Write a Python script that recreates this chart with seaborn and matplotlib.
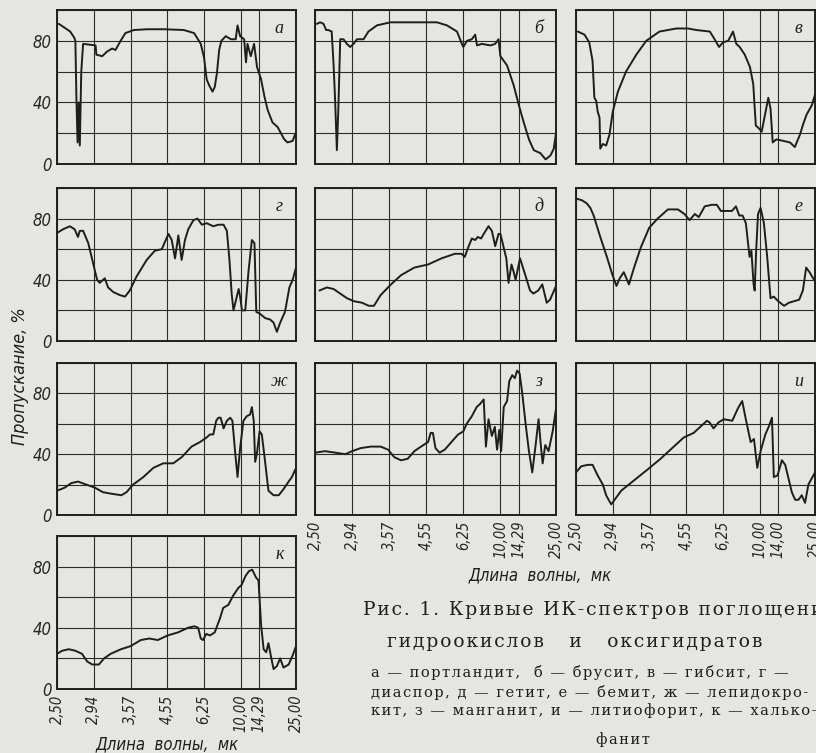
import numpy as np
import pandas as pd
import matplotlib
matplotlib.use('Agg')
import matplotlib.pyplot as plt
import seaborn as sns

# x is in grid steps: one step per wavelength label, the 10.00 -> 14.29 step is half width
grid_x = [0, 1, 2, 3, 4, 5, 5.5, 6.5]
wave_labels = ['2,50', '2,94', '3,57', '4,55', '6,25', '10,00', '14,29', '25,00']
wave_labels_i = ['2,50', '2,94', '3,57', '4,55', '6,25', '10,00', '14,00', '25,00']

# а - портландит
a_x = [0.05, 0.36, 0.47, 0.50, 0.53, 0.56, 0.59, 0.62, 0.66, 0.71, 1.05, 1.07, 1.23, 1.36, 1.50, 1.59,
       1.73, 1.86, 2.09, 2.45, 2.91, 3.45, 3.73, 3.91, 4.00, 4.07, 4.14, 4.23, 4.29, 4.35, 4.41, 4.47,
       4.59, 4.73, 4.86, 4.91, 4.98, 5.09, 5.14, 5.18, 5.27, 5.36, 5.44, 5.55, 5.64, 5.73, 5.86, 6.00,
       6.09, 6.18, 6.27, 6.41, 6.47]
a_y = [91, 86, 82, 80, 40, 14, 40, 12, 60, 78, 77, 71, 70, 73, 75, 74,
       80, 85, 87, 87.5, 87.5, 87, 85, 78, 69, 55, 51, 47, 50, 59, 74, 80,
       83, 81, 81, 90, 83, 81, 66, 78, 70, 78, 63, 55, 44, 35, 27, 24,
       20, 16, 14, 15, 19]

# б - брусит
b_x = [0.05, 0.14, 0.23, 0.30, 0.36, 0.45, 0.50, 0.54, 0.59, 0.63, 0.68, 0.77, 0.86, 0.95, 1.04, 1.13,
       1.31, 1.44, 1.67, 2.03, 2.57, 3.29, 3.56, 3.83, 3.96, 4.00, 4.10, 4.23, 4.32, 4.37, 4.50, 4.73,
       4.86, 4.95, 5.00, 5.18, 5.36, 5.50, 5.63, 5.77, 5.90, 6.08, 6.22, 6.35, 6.44, 6.50]
b_y = [91, 92, 91, 87, 87, 86, 65, 43, 9, 36, 81, 81, 78, 76, 78, 81,
       81, 86, 90, 92, 92, 92, 90, 86, 78, 76, 80, 81, 84, 77, 78, 77,
       78, 81, 70, 64, 51, 38, 27, 16, 9, 7, 3, 5.5, 10, 20]

# в - гибсит
v_x = [0.05, 0.23, 0.36, 0.45, 0.50, 0.55, 0.59, 0.64, 0.66, 0.73, 0.82, 0.91, 1.00, 1.14, 1.36, 1.64,
       1.91, 2.27, 2.73, 3.05, 3.27, 3.64, 3.77, 3.89, 4.00, 4.14, 4.27, 4.36, 4.45, 4.59, 4.73, 4.82,
       4.89, 4.98, 5.05, 5.14, 5.23, 5.29, 5.35, 5.45, 5.64, 5.82, 5.95, 6.09, 6.18, 6.27, 6.41, 6.50]
v_y = [86, 84, 79, 67, 43, 41, 34, 30, 10, 13, 12, 19, 34, 47, 60, 71,
       80, 86, 88, 88, 87, 86, 81, 76, 79, 80, 86, 78, 76, 71, 63, 52,
       25, 23, 21, 32, 43, 36, 14, 16, 15, 14, 11, 19, 26, 32, 38, 45]

# г - диаспор
g_x = [0.03, 0.16, 0.35, 0.48, 0.57, 0.62, 0.71, 0.85, 0.98, 1.09, 1.16, 1.30, 1.39, 1.53, 1.71, 1.85,
       1.98, 2.16, 2.44, 2.66, 2.85, 3.03, 3.12, 3.21, 3.30, 3.39, 3.48, 3.57, 3.71, 3.82, 3.94, 4.07,
       4.25, 4.39, 4.53, 4.62, 4.69, 4.75, 4.80, 4.87, 4.94, 4.98, 5.03, 5.12, 5.21, 5.30, 5.37, 5.42,
       5.51, 5.66, 5.80, 5.89, 5.98, 6.07, 6.20, 6.32, 6.41, 6.50]
g_y = [71, 73, 75, 73, 68, 72, 72, 64, 51, 40, 38, 41, 35, 32, 30, 29,
       33, 42, 53, 59, 60, 70, 66, 54, 69, 53, 66, 73, 79, 80, 76, 77,
       75, 76, 76, 72, 53, 31, 20, 27, 34, 29, 20, 20, 46, 66, 64, 19,
       18, 15, 14, 12, 6, 12, 19, 35, 40, 48]

# д - гетит
d_x = [0.12, 0.32, 0.50, 0.68, 0.86, 1.05, 1.27, 1.45, 1.59, 1.77, 2.05, 2.32, 2.68, 3.05, 3.41, 3.77,
       3.95, 4.04, 4.13, 4.23, 4.32, 4.39, 4.48, 4.55, 4.68, 4.77, 4.86, 4.95, 5.00, 5.07, 5.16, 5.22,
       5.30, 5.36, 5.41, 5.53, 5.66, 5.80, 5.89, 6.02, 6.13, 6.25, 6.34, 6.43, 6.50]
d_y = [33, 35, 34, 31, 28, 26, 25, 23, 23, 30, 37, 43, 48, 50, 54, 57,
       57, 55, 61, 67, 66, 68, 67, 70, 75, 72, 62, 70, 70, 63, 54, 38,
       50, 45, 40, 54, 44, 33, 31, 33, 37, 25, 27, 32, 36]

# е - бемит
e_x = [0.02, 0.16, 0.29, 0.39, 0.48, 0.66, 0.84, 0.98, 1.10, 1.19, 1.30, 1.44, 1.58, 1.76, 1.99, 2.22,
       2.50, 2.77, 2.95, 3.09, 3.23, 3.34, 3.50, 3.69, 3.83, 3.94, 4.10, 4.24, 4.35, 4.44, 4.53, 4.62,
       4.72, 4.77, 4.83, 4.86, 4.90, 4.95, 5.02, 5.11, 5.20, 5.29, 5.38, 5.50, 5.66, 5.79, 5.93, 6.07,
       6.17, 6.26, 6.35, 6.50]
e_y = [93, 92, 90, 87, 82, 68, 55, 44, 36, 41, 45, 37, 48, 61, 74, 80,
       86, 86, 83, 79, 83, 81, 88, 89, 89, 85, 85, 85, 88, 82, 82, 77,
       55, 59, 37, 33, 59, 83, 87, 77, 55, 28, 29, 26, 23, 25, 26, 27,
       33, 48, 45, 39]

# ж - лепидокрокит
zh_x = [0.00, 0.21, 0.39, 0.57, 0.80, 1.03, 1.25, 1.48, 1.75, 1.89, 2.07, 2.35, 2.62, 2.89, 3.16, 3.39,
        3.66, 3.89, 4.07, 4.16, 4.25, 4.33, 4.39, 4.45, 4.53, 4.62, 4.71, 4.77, 4.85, 4.91, 4.98, 5.07,
        5.16, 5.25, 5.30, 5.35, 5.39, 5.44, 5.51, 5.57, 5.66, 5.75, 5.89, 6.03, 6.16, 6.30, 6.39, 6.48]
zh_y = [16, 18, 21, 22, 20, 18, 15, 14, 13, 15, 20, 25, 31, 34, 34, 38,
        45, 48, 51, 53, 53, 62, 64, 64, 57, 62, 64, 62, 40, 25, 44, 62,
        65, 66, 71, 62, 35, 41, 55, 53, 35, 16, 13, 13, 17, 22, 25, 30]

# з - манганит
z_x = [0.00, 0.27, 0.55, 0.82, 1.00, 1.23, 1.50, 1.77, 1.97, 2.14, 2.32, 2.50, 2.68, 2.86, 3.05, 3.12,
       3.18, 3.25, 3.36, 3.50, 3.68, 3.86, 4.00, 4.09, 4.23, 4.36, 4.45, 4.55, 4.61, 4.68, 4.77, 4.85,
       4.91, 4.97, 5.02, 5.09, 5.18, 5.24, 5.32, 5.39, 5.45, 5.52, 5.59, 5.68, 5.77, 5.86, 5.95, 6.03,
       6.09, 6.14, 6.21, 6.30, 6.41, 6.50]
z_y = [41, 42, 41, 40, 42, 44, 45, 45, 43, 38, 36, 37, 42, 45, 48, 54,
       54, 44, 41, 43, 48, 53, 55, 60, 65, 71, 73, 76, 45, 63, 52, 58,
       43, 56, 42, 71, 75, 88, 92, 90, 95, 93, 80, 60, 42, 28, 46, 63,
       46, 34, 46, 42, 55, 70]

# и - литиофорит
i_x = [0.00, 0.14, 0.32, 0.45, 0.59, 0.73, 0.82, 0.91, 0.96, 1.23, 1.59, 1.95, 2.30, 2.66, 2.93, 3.20,
       3.38, 3.56, 3.63, 3.74, 3.88, 4.02, 4.25, 4.40, 4.52, 4.61, 4.75, 4.84, 4.93, 5.02, 5.15, 5.24,
       5.33, 5.38, 5.48, 5.60, 5.69, 5.78, 5.87, 5.96, 6.05, 6.14, 6.23, 6.32, 6.50]
i_y = [28, 32, 33, 33, 26, 20, 13, 9, 7, 16, 23, 30, 37, 45, 51, 54,
       58, 62, 61, 57, 61, 63, 62, 70, 75, 64, 48, 50, 31, 42, 53, 58,
       64, 25, 26, 36, 33, 24, 15, 10, 10, 13, 8, 20, 28]

# к - халькофанит
k_x = [0.00, 0.14, 0.32, 0.50, 0.68, 0.82, 0.96, 1.14, 1.28, 1.46, 1.74, 2.00, 2.28, 2.51, 2.74, 3.01,
       3.29, 3.56, 3.74, 3.84, 3.91, 3.97, 4.06, 4.16, 4.29, 4.43, 4.52, 4.66, 4.79, 4.93, 5.02, 5.13,
       5.22, 5.31, 5.41, 5.48, 5.55, 5.62, 5.69, 5.75, 5.83, 5.89, 5.98, 6.07, 6.16, 6.30, 6.41, 6.50]
k_y = [23, 25, 26, 25, 23, 18, 16, 16, 20, 23, 26, 28, 32, 33, 32, 35,
       37, 40, 41, 40, 33, 32, 36, 35, 37, 46, 53, 55, 61, 66, 68, 74,
       77, 78, 73, 71, 42, 26, 24, 30, 20, 13, 15, 20, 14, 16, 22, 28]

letters = ['а', 'б', 'в', 'г', 'д', 'е', 'ж', 'з', 'и', 'к']
xs = [a_x, b_x, v_x, g_x, d_x, e_x, zh_x, z_x, i_x, k_x]
ys = [a_y, b_y, v_y, g_y, d_y, e_y, zh_y, z_y, i_y, k_y]

W, H = 816, 753
bg = '#e5e5e1'
ink = '#1e1e1e'
narrow = dict(family='DejaVu Sans', style='italic', stretch='condensed')

sns.set_style('white')
plt.rcParams['font.family'] = ['DejaVu Sans']

fig = plt.figure(figsize=(W / 100, H / 100), dpi=100, facecolor=bg)

cols = [(57, 239), (315, 241), (576, 239)]
rows = [(10, 154), (188, 153), (363, 152), (536, 153)]
cells = [(0, 0), (0, 1), (0, 2), (1, 0), (1, 1), (1, 2), (2, 0), (2, 1), (2, 2), (3, 0)]
bottom_labels = {7: wave_labels, 8: wave_labels_i, 9: wave_labels}

for i, (r, c) in enumerate(cells):
    left, width = cols[c]
    top, height = rows[r]
    ax = fig.add_axes([left / W, 1 - (top + height) / H, width / W, height / H])
    ax.set_facecolor(bg)
    df = pd.DataFrame({'x': xs[i], 'y': ys[i]})
    sns.lineplot(data=df, x='x', y='y', ax=ax, color=ink, lw=1.4, sort=False, estimator=None)
    ax.set_xlim(0, 6.5)
    ax.set_ylim(0, 100)
    ax.set_xticks(grid_x)
    ax.set_yticks([0, 20, 40, 60, 80, 100])
    ax.grid(True, color='#2b2b2b', lw=0.8)
    ax.tick_params(length=0, pad=4)
    for s in ax.spines.values():
        s.set_color(ink)
        s.set_linewidth(1.4)
    ax.set_xlabel('')
    ax.set_ylabel('')
    if c == 0:
        ax.set_yticklabels(['0', '', '40', '', '80', ''], fontsize=12, **narrow)
    else:
        ax.set_yticklabels([])
    if i in bottom_labels:
        ax.set_xticklabels(bottom_labels[i], rotation=90, fontsize=10.5, **narrow)
    else:
        ax.set_xticklabels([])
    ax.text(0.93, 0.88, letters[i], transform=ax.transAxes, ha='center', va='center',
            family='Liberation Serif', style='italic', fontsize=13, color=ink)

fig.text(20 / W, 1 - 376 / H, 'Пропускание, %', rotation=90, ha='center', va='center',
         fontsize=13, color=ink, **narrow)
fig.text(540 / W, 1 - 575 / H, 'Длина  волны,  мк', ha='center', va='center',
         fontsize=12, color=ink, **narrow)
fig.text(167 / W, 1 - 744 / H, 'Длина  волны,  мк', ha='center', va='center',
         fontsize=12, color=ink, **narrow)


def spaced(s):
    # letter-spaced caption text, as in the printed figure
    return '\u200a'.join(s)


serif = 'DejaVu Serif'
fig.text(363 / W, 1 - 610 / H, spaced('Рис. 1. Кривые ИК-спектров поглощения'), ha='left', va='center',
         family=serif, fontsize=13.5, color=ink)
fig.text(575 / W, 1 - 642 / H, spaced('гидроокислов   и   оксигидратов'), ha='center', va='center',
         family=serif, fontsize=13.5, color=ink)
caption = ['а — портландит,  б — брусит, в — гибсит, г —',
           'диаспор, д — гетит, е — бемит, ж — лепидокро-',
           'кит, з — манганит, и — литиофорит, к — халько-']
for j, line in enumerate(caption):
    fig.text(371 / W, 1 - (673 + 19 * j) / H, spaced(line), ha='left', va='center',
             family=serif, fontsize=10.5, color=ink)
fig.text(623 / W, 1 - 740 / H, spaced('фанит'), ha='center', va='center', family=serif, fontsize=10.5, color=ink)

fig.savefig('out.png', dpi=100, facecolor=bg)
